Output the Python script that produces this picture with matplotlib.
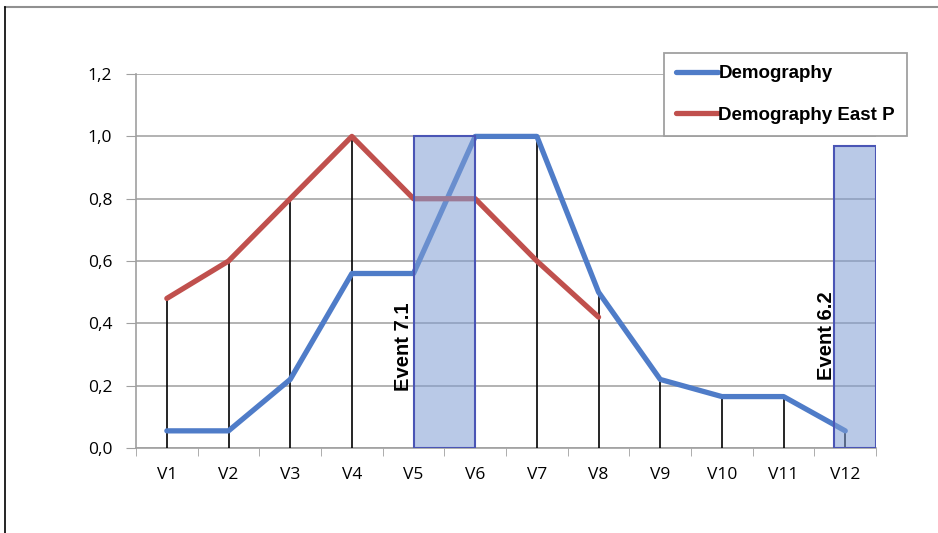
import matplotlib.pyplot as plt
from matplotlib.lines import Line2D

categories = ['V1', 'V2', 'V3', 'V4', 'V5', 'V6', 'V7', 'V8', 'V9', 'V10', 'V11', 'V12']
demography = [0.055, 0.055, 0.22, 0.56, 0.56, 1.0, 1.0, 0.5, 0.22, 0.165, 0.165, 0.055]
demography_east = [0.48, 0.6, 0.8, 1.0, 0.8, 0.8, 0.6, 0.42]

event_names = ['Event 7.1', 'Event 6.2']
event_start = [5.0, 11.82]
event_end = [6.0, 12.5]
event_height = [1.0, 0.97]

blue = '#4f7cc8'
red = '#c0504d'

fig = plt.figure(figsize=(9.38, 5.33), dpi=100)
ax = fig.add_axes([0.145, 0.1595, 0.789, 0.7015])

x = list(range(1, len(categories) + 1))
x_east = x[:len(demography_east)]

# drop lines from the highest point at each category
tops = [max(demography[i], demography_east[i]) if i < len(demography_east) else demography[i]
        for i in range(len(categories))]
ax.vlines(x, 0, tops, color='black', lw=1.2, zorder=3)

ax.plot(x, demography, color=blue, lw=3.8, solid_capstyle='round', zorder=4, label='Demography')
ax.plot(x_east, demography_east, color=red, lw=3.8, solid_capstyle='round', zorder=4,
        label='Demography East P')

label_y = [0.325, 0.36]
label_dx = [-0.17, -0.13]
for name, s, e, h, ty, dx in zip(event_names, event_start, event_end, event_height, label_y, label_dx):
    ax.bar(s, h, width=e - s, align='edge', facecolor=(0.50, 0.62, 0.83, 0.55),
           edgecolor='#4a55b5', lw=1.5, zorder=5)
    ax.text(s + dx, ty, name, rotation=90, ha='center', va='center',
            fontsize=14.5, fontweight='bold', family='Liberation Sans', zorder=6)

ax.set_xlim(0.5, 12.5)
ax.set_ylim(0, 1.2)
ax.set_yticks([0, 0.2, 0.4, 0.6, 0.8, 1.0, 1.2])
ax.set_yticklabels(['0,0', '0,2', '0,4', '0,6', '0,8', '1,0', '1,2'])
ax.set_xticks(x)
ax.set_xticklabels(categories)
ax.set_xticks([i + 0.5 for i in range(0, 13)], minor=True)
ax.tick_params(axis='x', which='major', length=0, pad=14, labelsize=12.5)
ax.tick_params(axis='x', which='minor', length=6, color='#a0a0a0', direction='out')
ax.tick_params(axis='y', length=7, color='#a0a0a0', pad=10, labelsize=12.5)
for lab in ax.get_xticklabels() + ax.get_yticklabels():
    lab.set_family('Open Sans')

ax.grid(axis='y', color='#a6a6a6', lw=1.2, zorder=0)
ax.set_axisbelow(True)
for side in ['top', 'right']:
    ax.spines[side].set_visible(False)
for side in ['left', 'bottom']:
    ax.spines[side].set_color('#a0a0a0')
    ax.spines[side].set_linewidth(1.2)

leg = fig.legend(loc='upper left', bbox_to_anchor=(0.708, 0.901), borderaxespad=0,
                 fancybox=False, edgecolor='#a0a0a0', framealpha=1, handlelength=2.2,
                 handletextpad=0.05, labelspacing=1.3, borderpad=0.65,
                 prop={'family': 'Liberation Sans', 'weight': 'bold', 'size': 13.5})
leg.get_frame().set_linewidth(1.3)

# outer chart frame
fig.add_artist(Line2D([0.005, 1.0], [0.987, 0.987], color='#909090', lw=1.5))
fig.add_artist(Line2D([0.0055, 0.0055], [0.0, 0.987], color='black', lw=1.2))

fig.savefig('out.png', dpi=100)
